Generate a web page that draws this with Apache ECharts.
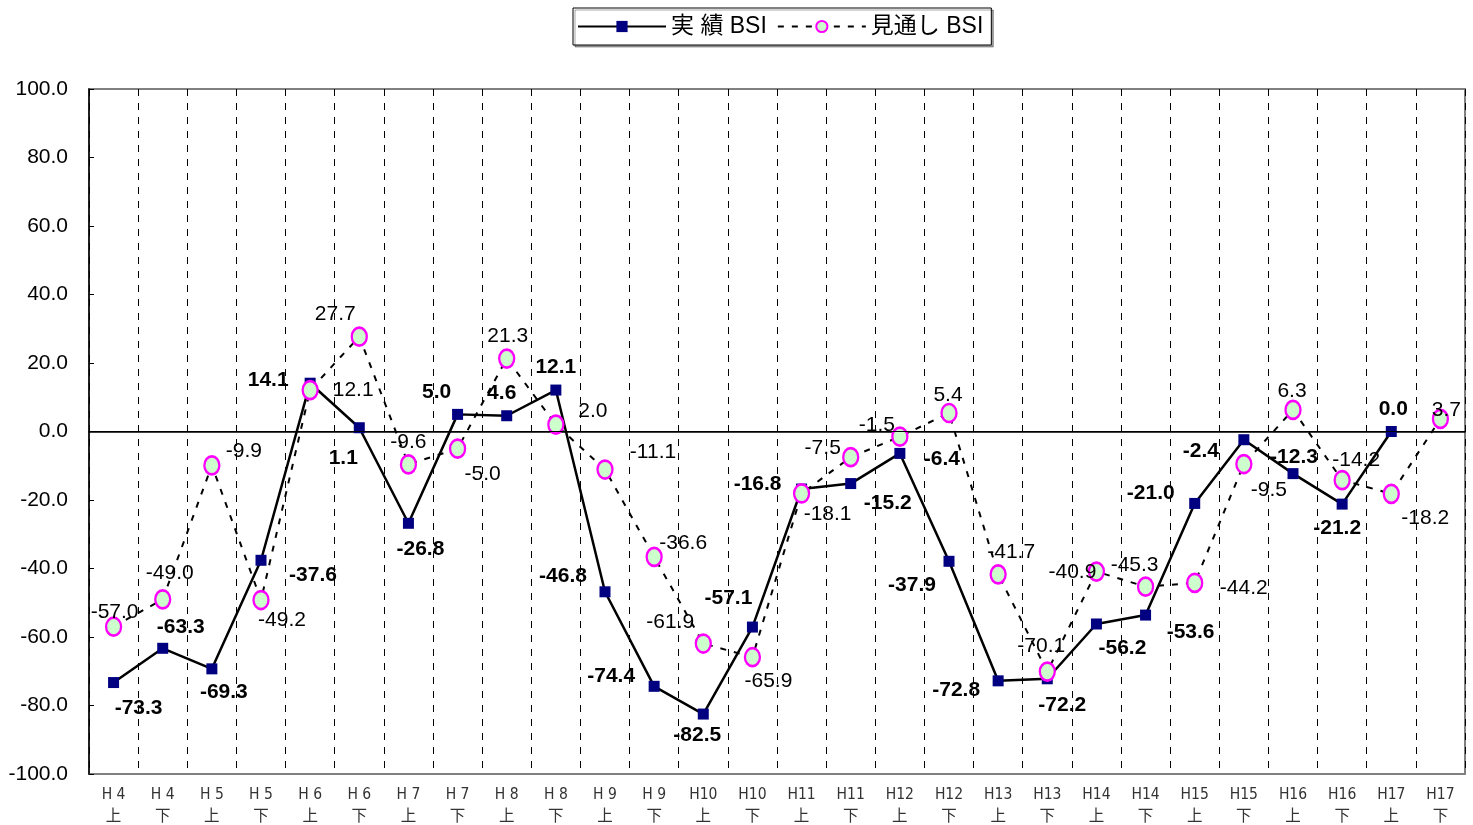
<!DOCTYPE html>
<html>
<head>
<meta charset="utf-8">
<script src="https://cdn.jsdelivr.net/npm/echarts@6/dist/echarts.min.js"></script>
<style>
  html, body { margin: 0; padding: 0; background: #fff; }
  #chart { width: 1473px; height: 825px; }
</style>
</head>
<body>
<div id="chart"></div>
<script>
// Half-year periods (Heisei years, first / second half)
const periods = ['H 4','H 4','H 5','H 5','H 6','H 6','H 7','H 7','H 8','H 8','H 9','H 9','H10','H10',
                 'H11','H11','H12','H12','H13','H13','H14','H14','H15','H15','H16','H16','H17','H17'];
const halves  = ['上','下','上','下','上','下','上','下','上','下','上','下','上','下',
                 '上','下','上','下','上','下','上','下','上','下','上','下','上','下'];

// 実績 BSI (actual)
const actualBSI = [-73.3, -63.3, -69.3, -37.6, 14.1, 1.1, -26.8, 5.0, 4.6, 12.1, -46.8, -74.4, -82.5, -57.1,
                   -16.8, -15.2, -6.4, -37.9, -72.8, -72.2, -56.2, -53.6, -21.0, -2.4, -12.3, -21.2, 0.0, null];
// 見通し BSI (outlook)
const outlookBSI = [-57.0, -49.0, -9.9, -49.2, 12.1, 27.7, -9.6, -5.0, 21.3, 2.0, -11.1, -36.6, -61.9, -65.9,
                    -18.1, -7.5, -1.5, 5.4, -41.7, -70.1, -40.9, -45.3, -44.2, -9.5, 6.3, -14.2, -18.2, 3.7];

// Value-label offsets from each point (px)
const actualLabelOffset = [[25,26],[18,-21],[12,23],[52,15],[-42,-3],[-16,30],[12,26],[-21,-22],[-5,-23],[0,-23],
                           [-42,-16],[-43,-10],[-6,21],[-24,-29],[-44,-5],[37,20],[42,6],[-37,24],[-42,9],[15,26],
                           [26,24],[45,17],[-44,-10],[-43,11],[1,-16],[-5,24],[2,-22],[0,0]];
const outlookLabelOffset = [[1,-15],[7,-26],[32,-14],[21,20],[43,0],[-24,-22],[0,-22],[25,26],[1,-22],[37,-13],
                            [48,-17],[29,-14],[-33,-21],[16,24],[26,21],[-28,-9],[-23,-11],[-1,-18],[13,-22],[-6,-25],
                            [-24,1],[-11,-21],[49,5],[25,26],[-1,-19],[14,-20],[34,24],[6,-9]];

const categories = periods.map((p, i) => p + '\n' + halves[i]);

function withLabels(values, offsets) {
  return values.map((v, i) => v === null ? null : { value: v, label: { offset: offsets[i] } });
}

const chart = echarts.init(document.getElementById('chart'));
chart.setOption({
  animation: false,
  backgroundColor: '#fff',
  textStyle: { fontFamily: 'Liberation Sans, Arial, sans-serif' },
  legend: {
    left: 573, top: 8,
    padding: [7, 8, 7, 4],
    itemWidth: 88, itemHeight: 14, itemGap: 10,
    backgroundColor: '#fff',
    borderColor: '#000', borderWidth: 1,
    shadowColor: 'rgba(0,0,0,0.35)', shadowOffsetX: 2, shadowOffsetY: 2, shadowBlur: 0,
    textStyle: { fontSize: 23, color: '#000', fontFamily: 'Liberation Sans, "Noto Sans CJK JP", sans-serif' },
    data: ['実 績 BSI', '見通し BSI']
  },
  grid: {
    left: 89, right: 8, top: 89, bottom: 51,
    containLabel: false,
    outerBoundsMode: 'none',
    show: true, borderColor: '#808080', borderWidth: 2
  },
  xAxis: {
    type: 'category',
    data: categories,
    boundaryGap: true,
    axisLine: { lineStyle: { color: '#000', width: 1.5 } },
    axisTick: { show: false },
    axisLabel: {
      interval: 0, margin: 10,
      fontSize: 15.5, lineHeight: 22, color: '#333',
      fontFamily: '"Liberation Sans Narrow", "DejaVu Sans Condensed", "Noto Sans CJK JP", sans-serif'
    },
    splitLine: {
      show: true, interval: 0,
      lineStyle: { color: '#000', width: 1, type: [7, 7] }
    }
  },
  yAxis: {
    type: 'value',
    min: -100, max: 100, interval: 20,
    axisLine: { show: true, lineStyle: { color: '#000', width: 1.5 } },
    axisTick: { show: true, inside: true, length: 5, lineStyle: { color: '#000' } },
    axisLabel: {
      margin: 21, fontSize: 21, color: '#000',
      formatter: v => v.toFixed(1)
    },
    splitLine: { show: false }
  },
  series: [
    {
      name: '実 績 BSI',
      type: 'line',
      data: withLabels(actualBSI, actualLabelOffset),
      symbol: 'rect', symbolSize: 11,
      itemStyle: { color: '#000080' },
      lineStyle: { color: '#000', width: 2.5 },
      label: {
        show: true, position: 'inside', align: 'center', verticalAlign: 'middle',
        fontSize: 21, fontWeight: 'bold', color: '#000',
        formatter: p => p.value.toFixed(1)
      },
      markLine: {
        silent: true, symbol: ['none', 'none'],
        label: { show: false },
        lineStyle: { color: '#000', type: 'solid', width: 1 },
        data: [{ yAxis: 0 }]
      },
      z: 3
    },
    {
      name: '見通し BSI',
      type: 'line',
      data: withLabels(outlookBSI, outlookLabelOffset),
      symbol: 'circle', symbolSize: [15, 18],
      itemStyle: { color: '#ccffcc', borderColor: '#ff00ff', borderWidth: 2.5 },
      lineStyle: { color: '#000', width: 2, type: [6, 8] },
      label: {
        show: true, position: 'inside', align: 'center', verticalAlign: 'middle',
        fontSize: 21, color: '#000',
        formatter: p => p.value.toFixed(1)
      },
      z: 4
    }
  ]
});
</script>
</body>
</html>
